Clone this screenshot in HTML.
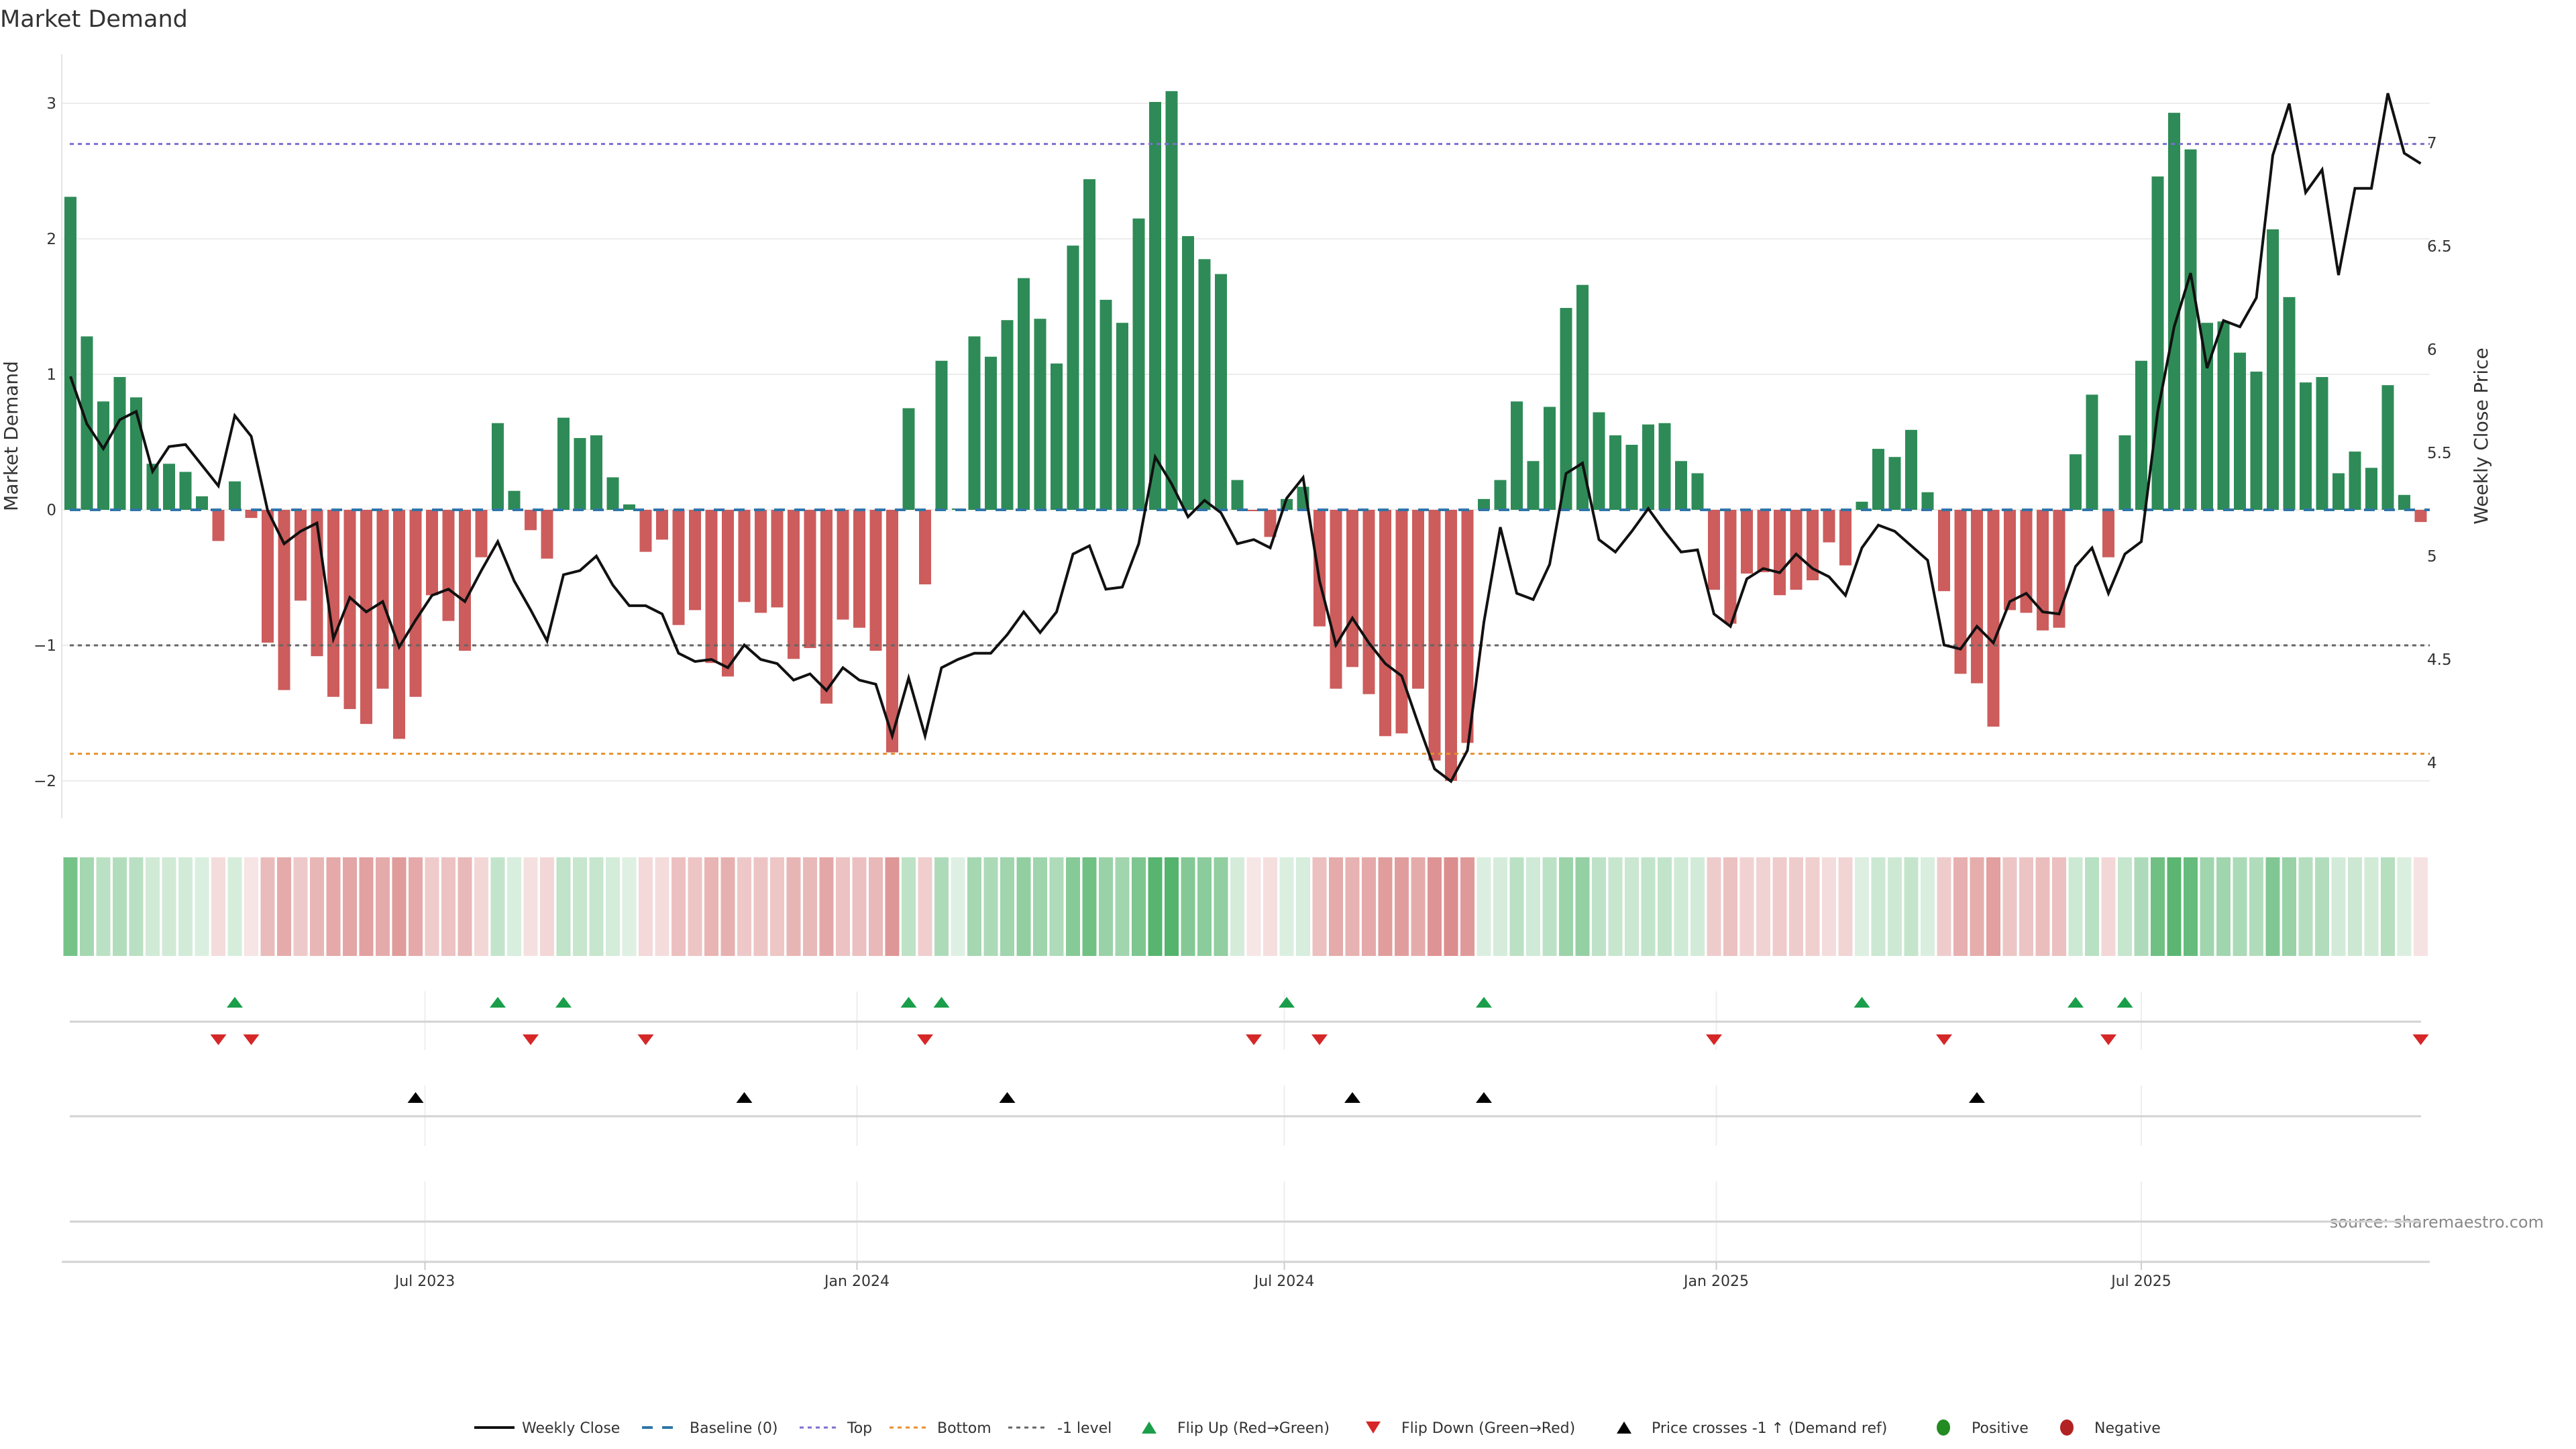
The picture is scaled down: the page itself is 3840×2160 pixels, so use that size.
<!DOCTYPE html>
<html><head><meta charset="utf-8"><title>Market Demand</title>
<style>
html,body{margin:0;padding:0;background:#fff;}
svg{display:block;font-family:"DejaVu Sans","Liberation Sans",sans-serif;}
</style></head>
<body>
<svg id="chart" width="3840" height="2160" viewBox="0 0 3840 2160" xmlns="http://www.w3.org/2000/svg">
<text x="0" y="40" font-size="35" fill="#333">Market Demand</text>
<text transform="translate(26,650) rotate(-90)" text-anchor="middle" font-size="28" fill="#333">Market Demand</text>
<text transform="translate(3708,650) rotate(-90)" text-anchor="middle" font-size="28" fill="#333">Weekly Close Price</text>
<text x="3792" y="1830" text-anchor="end" font-size="24" fill="#888">source: sharemaestro.com</text>
<g id="grid"></g><g id="bars"></g><g id="refs"></g><g id="price"></g><g id="heat"></g><g id="events"></g><g id="axes"></g><g id="legend"></g>
</svg>
<script>
const demand = [2.31,1.28,0.80,0.98,0.83,0.34,0.34,0.28,0.10,-0.23,0.21,-0.06,-0.98,-1.33,-0.67,-1.08,-1.38,-1.47,-1.58,-1.32,-1.69,-1.38,-0.63,-0.82,-1.04,-0.35,0.64,0.14,-0.15,-0.36,0.68,0.53,0.55,0.24,0.04,-0.31,-0.22,-0.85,-0.74,-1.13,-1.23,-0.68,-0.76,-0.72,-1.10,-1.02,-1.43,-0.81,-0.87,-1.04,-1.79,0.75,-0.55,1.10,0.01,1.28,1.13,1.40,1.71,1.41,1.08,1.95,2.44,1.55,1.38,2.15,3.01,3.09,2.02,1.85,1.74,0.22,-0.01,-0.20,0.08,0.17,-0.86,-1.32,-1.16,-1.36,-1.67,-1.65,-1.32,-1.85,-2.0,-1.72,0.08,0.22,0.80,0.36,0.76,1.49,1.66,0.72,0.55,0.48,0.63,0.64,0.36,0.27,-0.59,-0.84,-0.47,-0.46,-0.63,-0.59,-0.52,-0.24,-0.41,0.06,0.45,0.39,0.59,0.13,-0.60,-1.21,-1.28,-1.60,-0.74,-0.76,-0.89,-0.87,0.41,0.85,-0.35,0.55,1.10,2.46,2.93,2.66,1.38,1.39,1.16,1.02,2.07,1.57,0.94,0.98,0.27,0.43,0.31,0.92,0.11,-0.09];
const closePrice = [5.87,5.64,5.52,5.66,5.70,5.41,5.53,5.54,5.44,5.34,5.68,5.58,5.22,5.06,5.12,5.16,4.60,4.80,4.73,4.78,4.56,4.69,4.81,4.84,4.78,4.93,5.07,4.88,4.74,4.59,4.91,4.93,5.00,4.86,4.76,4.76,4.72,4.53,4.49,4.50,4.46,4.57,4.50,4.48,4.40,4.43,4.35,4.46,4.40,4.38,4.13,4.41,4.13,4.46,4.50,4.53,4.53,4.62,4.73,4.63,4.73,5.01,5.05,4.84,4.85,5.06,5.48,5.35,5.19,5.27,5.21,5.06,5.08,5.04,5.28,5.38,4.88,4.57,4.70,4.58,4.48,4.42,4.19,3.97,3.91,4.06,4.68,5.14,4.82,4.79,4.96,5.40,5.45,5.08,5.02,5.12,5.23,5.12,5.02,5.03,4.72,4.66,4.89,4.94,4.92,5.01,4.94,4.90,4.81,5.04,5.15,5.12,5.05,4.98,4.57,4.55,4.66,4.58,4.78,4.82,4.73,4.72,4.95,5.04,4.82,5.01,5.07,5.70,6.11,6.37,5.91,6.14,6.11,6.25,6.94,7.19,6.76,6.87,6.36,6.78,6.78,7.24,6.95,6.90];
const priceCrossIdx = [21,41,57,78,86,116];
const levelValues = [2.7,0,-1,-1.8];
const demandTicks = [-2,-1,0,1,2,3];
const demandTickLabels = ["\u22122","\u22121","0","1","2","3"];
const priceTicks = [4,4.5,5,5.5,6,6.5,7];
const priceTickLabels = ["4","4.5","5","5.5","6","6.5","7"];
const dateTickLabels = ["Jul 2023","Jan 2024","Jul 2024","Jan 2025","Jul 2025"];
const dateTickValues = ["2023-07-01","2024-01-01","2024-07-01","2025-01-01","2025-07-01"];

const NS="http://www.w3.org/2000/svg";
const X0=105, STEP=24.5, START=Date.UTC(2023,0,31);
function xIdx(i){return X0+STEP*i;}
function xDate(s){const d=(Date.parse(s+"T00:00:00Z")-START)/86400000;return X0+d*STEP/7;}
function yD(v){return 760-202*v;}
function yP(p){return 1137-308*(p-4);}
function mk(tag,attrs,parent){const e=document.createElementNS(NS,tag);for(const k in attrs)e.setAttribute(k,attrs[k]);document.getElementById(parent).appendChild(e);return e;}
const L=92,R=3622;

demandTicks.forEach((t,k)=>{
  const g=mk('line',{x1:L,x2:R,y1:yD(t),y2:yD(t),stroke:'#ececec','stroke-width':2},'grid');
  
  
  const tx=mk('text',{x:84,y:yD(t)+8,'text-anchor':'end','font-size':23,fill:'#333'},'axes');
  tx.textContent=demandTickLabels[k];
  
  
});
priceTicks.forEach((t,k)=>{
  const tx=mk('text',{x:3618,y:yP(t)+8,'font-size':23,fill:'#333'},'axes');
  tx.textContent=priceTickLabels[k];
  
  
});
const sp=mk('line',{x1:L,x2:L,y1:81,y2:1220,stroke:'#e4e4e4','stroke-width':2},'axes');



const refStyles=[{c:'#7b6fd0',d:'6 6'},{c:'#2f75a8',d:'16 14'},{c:'#666',d:'6 6'},{c:'#e6902a',d:'6 6'}];
const refNames=['top-level-line','baseline-zero','minus-one-level-line','bottom-level-line'];

demand.forEach((v,i)=>{
  const y=yD(v), y0=yD(0);
  const b=mk('rect',{x:xIdx(i)-9,y:Math.min(y,y0),width:18,height:Math.max(Math.abs(y-y0),0.5),fill:v>=0?'#2e8b57':'#cd5c5c'},'bars');
  
  
});
levelValues.forEach((v,k)=>{
  const l=mk('line',{x1:104,x2:R,y1:yD(v),y2:yD(v),stroke:refStyles[k].c,'stroke-width':k==1?4:3,'stroke-dasharray':refStyles[k].d},'refs');
  
  
});

const pl=mk('polyline',{points:closePrice.map((p,i)=>xIdx(i)+','+yP(p)).join(' '),fill:'none',stroke:'#111','stroke-width':4,'stroke-linejoin':'miter'},'price');



demand.forEach((v,i)=>{
  const a=Math.abs(v);
  const op=v>=0?0.15+0.65*Math.min(a/3.1,1):0.15+0.55*Math.min(a/2,1);
  const c=mk('rect',{x:xIdx(i)-10.5,y:1278,width:21,height:147,fill:v>=0?'rgb(40,160,70)':'rgb(205,92,92)','fill-opacity':op.toFixed(3)},'heat');
  
  
});

[1523,1664,1821].forEach(y=>{
  const l=mk('line',{x1:104,x2:3609,y1:y,y2:y,stroke:'#d2d2d2','stroke-width':3},'events');
  
  
});
const axl=mk('line',{x1:L,x2:R,y1:1881,y2:1881,stroke:'#d2d2d2','stroke-width':3},'events');


dateTickValues.forEach((d,k)=>{
  const x=xDate(d);
  [[1478,1565],[1618,1708],[1761,1881]].forEach(s=>{
    const g=mk('line',{x1:x,x2:x,y1:s[0],y2:s[1],stroke:'#eceef2','stroke-width':2},'grid');
    
    
  });
  const tk=mk('line',{x1:x,x2:x,y1:1881,y2:1893,stroke:'#ccc','stroke-width':2},'axes');
  
  
  const t=mk('text',{x:x,y:1917,'text-anchor':'middle','font-size':22,fill:'#333'},'axes');
  t.textContent=dateTickLabels[k];
  
  
});
function tri(x,y,up,col,name){
  const h=16,w=12;
  const pts=up?`${x},${y-h/2} ${x-w},${y+h/2} ${x+w},${y+h/2}`:`${x},${y+h/2} ${x-w},${y-h/2} ${x+w},${y-h/2}`;
  const t=mk('polygon',{points:pts,fill:col},'events');
  
  
}
for(let i=1;i<demand.length;i++){
  if(demand[i-1]<0&&demand[i]>=0)tri(xIdx(i),1494,true,'#1a9e4a','flip-up-marker');
  if(demand[i-1]>=0&&demand[i]<0)tri(xIdx(i),1550,false,'#d62728','flip-down-marker');
}
priceCrossIdx.forEach(i=>tri(xIdx(i),1636,true,'#000','price-cross-marker'));

const lg='legend', ly=2128;
function ltext(x,s){const t=mk('text',{x:x,y:ly+8,'font-size':22,fill:'#333'},lg);t.textContent=s;}
function lline(x1,x2,col,w,dash,name){const l=mk('line',{x1:x1,x2:x2,y1:ly,y2:ly,stroke:col,'stroke-width':w,'stroke-dasharray':dash},lg);}
lline(707,767,'#111',4,'none','legend-weekly-close');ltext(778,'Weekly Close');
lline(957,1012,'#2f75a8',4,'16 14','legend-baseline');ltext(1028,'Baseline (0)');
lline(1192,1247,'#7b6fd0',3,'6 6','legend-top');ltext(1263,'Top');
lline(1326,1380,'#e6902a',3,'6 6','legend-bottom');ltext(1397,'Bottom');
lline(1503,1559,'#666',3,'6 6','legend-minus-one');ltext(1576,'-1 level');
(function(){const t=mk('polygon',{points:'1713,2119 1702,2137 1724,2137',fill:'#1a9e4a'},lg);})();ltext(1755,'Flip Up (Red\u2192Green)');
(function(){const t=mk('polygon',{points:'2047,2137 2036,2119 2058,2119',fill:'#d62728'},lg);})();ltext(2089,'Flip Down (Green\u2192Red)');
(function(){const t=mk('polygon',{points:'2421,2119 2410,2137 2432,2137',fill:'#000'},lg);})();ltext(2462,'Price crosses -1 \u2191 (Demand ref)');
(function(){const c=mk('ellipse',{cx:2897,cy:ly,rx:10,ry:12,fill:'#228b22'},lg);})();ltext(2939,'Positive');
(function(){const c=mk('ellipse',{cx:3081,cy:ly,rx:10,ry:12,fill:'#b22222'},lg);})();ltext(3122,'Negative');
</script>
</body></html>
